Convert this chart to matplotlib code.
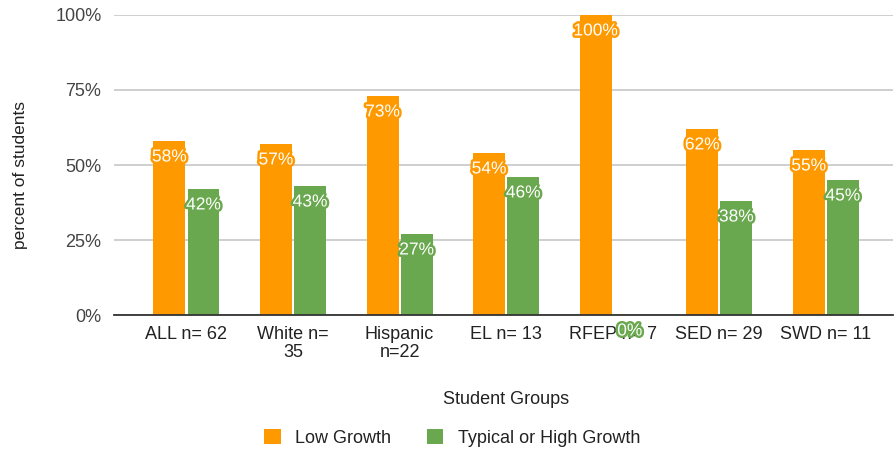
import matplotlib.pyplot as plt
import matplotlib.patheffects as pe
from matplotlib.ticker import PercentFormatter

plt.rcParams['font.family'] = ['Liberation Sans', 'DejaVu Sans']

groups = ['ALL n= 62', 'White n=\n35', 'Hispanic\nn=22', 'EL n= 13',
          'RFEP n= 7', 'SED n= 29', 'SWD n= 11']
low_growth = [58, 57, 73, 54, 100, 62, 55]
high_growth = [42, 43, 27, 46, 0, 38, 45]
series_names = ['Low Growth', 'Typical or High Growth']
colors = ['#ff9900', '#6aa84f']

fig = plt.figure(figsize=(8.94, 4.53), dpi=100)
ax = fig.add_axes([0.1275, 0.3046, 0.8714, 0.6623])

x = list(range(len(groups)))
width = 0.3
offsets = [-0.16, 0.16]

for vals, name, color, off in zip([low_growth, high_growth], series_names, colors, offsets):
    xs = [i + off for i in x]
    ax.bar(xs, [v / 100 for v in vals], width=width, color=color, label=name, zorder=2)
    for xi, v in zip(xs, vals):
        # white value label with an outline in the bar colour
        ax.annotate(f'{v}%', (xi, v / 100), xytext=(0, -11.5), textcoords='offset points',
                    ha='center', va='center', fontsize=12.5, color='white', zorder=5,
                    annotation_clip=False,
                    path_effects=[pe.withStroke(linewidth=3.5, foreground=color)])

ax.set_xlim(-0.68, 6.63)
ax.set_ylim(0, 1)
ax.set_yticks([0, 0.25, 0.5, 0.75, 1.0])
ax.yaxis.set_major_formatter(PercentFormatter(1.0, decimals=0))
ax.set_xticks(x)
ax.set_xticklabels(groups, fontsize=13, color='#222222', linespacing=1.05)
ax.tick_params(axis='y', length=0, pad=9, labelsize=13, labelcolor='#444444')
ax.tick_params(axis='x', length=0, pad=8)

ax.grid(axis='y', color='#cccccc', linewidth=1.3, zorder=0)
for s in ['top', 'right', 'left']:
    ax.spines[s].set_visible(False)
ax.spines['bottom'].set_color('#333333')
ax.spines['bottom'].set_linewidth(1.3)
ax.spines['bottom'].set_zorder(3)

ax.set_ylabel('percent of students', fontsize=12.5, color='#222222')
ax.yaxis.set_label_coords(-0.11, 0.467)
fig.text(0.566, 0.119, 'Student Groups', ha='center', va='center', fontsize=13, color='#222222')

fig.legend(loc='center', bbox_to_anchor=(0.506, 0.033), ncol=2, frameon=False,
           fontsize=13, handlelength=0.9, handleheight=0.9, columnspacing=2.0,
           labelcolor='#222222')

fig.savefig('out.png', dpi=100)
